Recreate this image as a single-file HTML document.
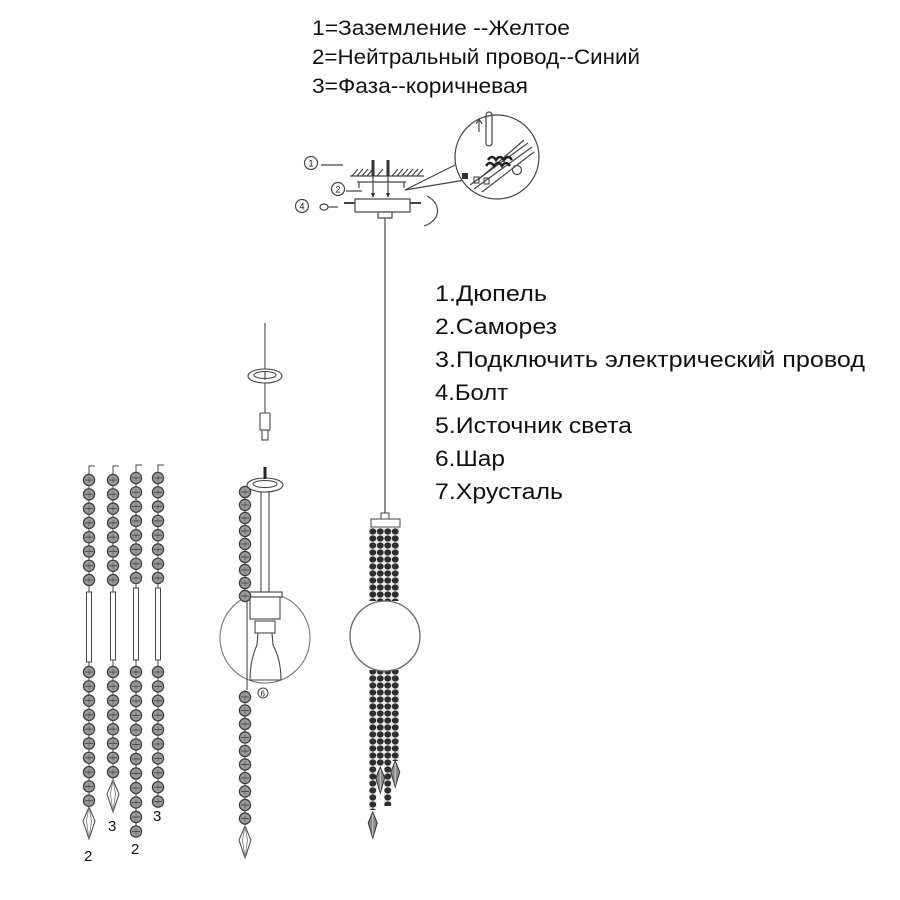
<!DOCTYPE html>
<html><head><meta charset="utf-8"><style>
html,body{margin:0;padding:0;background:#fff;}
svg{display:block;}
text{font-family:"Liberation Sans",Arial,sans-serif;fill:#111;}
</style></head><body>
<svg width="900" height="900" viewBox="0 0 900 900" xmlns="http://www.w3.org/2000/svg">
<defs>
<g id="b"><circle r="5.6" fill="#9a9a9a" stroke="#3a3a3a" stroke-width="1.2"/><line x1="-4" y1="0" x2="4" y2="0" stroke="#444" stroke-width="0.9"/><line x1="0" y1="-3" x2="0" y2="3" stroke="#555" stroke-width="0.7"/></g>
<g id="drop"><path d="M0,0 L6,14 L0,32 L-6,14 Z" fill="#fff" stroke="#444" stroke-width="1"/><path d="M0,0 L2.5,14 L0,32 L-2.5,14 Z" fill="none" stroke="#777" stroke-width="0.8"/></g>
<g id="sdrop"><path d="M0,0 L4.5,11 L0,26 L-4.5,11 Z" fill="#888" stroke="#333" stroke-width="1"/><line x1="0" y1="2" x2="0" y2="24" stroke="#ddd" stroke-width="0.8"/></g>
<pattern id="rb" x="369" y="528" width="7.5" height="7" patternUnits="userSpaceOnUse"><rect width="7.5" height="7" fill="#e8e8e8"/><ellipse cx="3.75" cy="3.5" rx="3.4" ry="3.1" fill="#2e2e2e"/></pattern>
</defs>
<rect width="900" height="900" fill="#fff"/>

<!-- top texts -->
<text x="312" y="35" font-size="21" textLength="258" lengthAdjust="spacingAndGlyphs">1=Заземление --Желтое</text>
<text x="312" y="64" font-size="21" textLength="328" lengthAdjust="spacingAndGlyphs">2=Нейтральный провод--Синий</text>
<text x="312" y="93" font-size="21" textLength="216" lengthAdjust="spacingAndGlyphs">3=Фаза--коричневая</text>

<!-- list -->
<text x="435" y="301" font-size="22" textLength="112" lengthAdjust="spacingAndGlyphs">1.Дюпель</text>
<text x="435" y="334" font-size="22" textLength="122" lengthAdjust="spacingAndGlyphs">2.Саморез</text>
<text x="435" y="367" font-size="22" textLength="430" lengthAdjust="spacingAndGlyphs">3.Подключить электрический провод</text>
<line x1="761" y1="350" x2="761" y2="370" stroke="#999" stroke-width="1"/>
<text x="435" y="400" font-size="22" textLength="73" lengthAdjust="spacingAndGlyphs">4.Болт</text>
<text x="435" y="433" font-size="22" textLength="197" lengthAdjust="spacingAndGlyphs">5.Источник света</text>
<text x="435" y="466" font-size="22" textLength="70" lengthAdjust="spacingAndGlyphs">6.Шар</text>
<text x="435" y="499" font-size="22" textLength="128" lengthAdjust="spacingAndGlyphs">7.Хрусталь</text>

<!-- ceiling / canopy -->
<g stroke="#444" stroke-width="1.2" fill="none">
<line x1="350" y1="176" x2="424" y2="176"/>
<path d="M352,176 l6,-7 M357,176 l6,-7 M362,176 l6,-7 M367,176 l6,-7 M377,176 l6,-7 M392,176 l6,-7 M397,176 l6,-7 M402,176 l6,-7 M407,176 l6,-7 M412,176 l6,-7 M417,176 l6,-7"/>
<circle cx="311" cy="163" r="6.5"/>
<line x1="321" y1="165" x2="343" y2="165"/>
<line x1="357" y1="182" x2="406" y2="182"/>
<line x1="359" y1="182" x2="359" y2="188"/>
<line x1="404" y1="182" x2="404" y2="188"/>
<line x1="373" y1="176" x2="373" y2="196"/>
<line x1="388" y1="176" x2="388" y2="196"/>
<circle cx="338" cy="189" r="6.5"/>
<line x1="346" y1="191" x2="362" y2="191"/>
<circle cx="302" cy="206" r="6.5"/>
<ellipse cx="324" cy="207" rx="4" ry="3"/>
<line x1="328" y1="207" x2="338" y2="207"/>
<rect x="355" y="199" width="55" height="13" fill="#fff"/>
<line x1="344" y1="203" x2="355" y2="203" stroke-width="2"/>
<line x1="410" y1="203" x2="421" y2="203" stroke-width="2"/>
<rect x="378" y="212" width="14" height="6" fill="#fff"/>
<path d="M427,196 C441,203 442,220 424,226"/>
<!-- magnifier -->
<line x1="405" y1="190" x2="455" y2="165"/>
<line x1="405" y1="190" x2="465" y2="180"/>
<circle cx="497" cy="157" r="42" fill="#fff"/>
<rect x="486" y="112" width="6" height="34" rx="3"/>
<path d="M479,132 L479,120 M476,124 L479,119 L482,124"/>
<line x1="470" y1="185" x2="528" y2="143"/>
<line x1="474" y1="189" x2="532" y2="147"/>
<line x1="478" y1="180" x2="524" y2="140"/>
<line x1="482" y1="192" x2="534" y2="152"/>
<circle cx="517" cy="170" r="4.5"/>
</g>
<path d="M488,160 q4,-6 8,0 q4,-6 8,0 q4,-6 8,0 M486,166 q4,-6 8,0 q4,-6 8,0 q4,-6 8,0" stroke="#222" stroke-width="2.5" fill="none"/>
<rect x="462" y="173" width="6" height="6" fill="#333"/>
<rect x="474" y="177" width="5" height="6" fill="none" stroke="#333"/>
<rect x="484" y="178" width="5" height="6" fill="none" stroke="#333"/>
<rect x="371.5" y="160" width="3" height="16" fill="#333"/>
<rect x="386.5" y="160" width="3" height="16" fill="#333"/>
<path d="M371,193 L373,198 L375,193 Z M386,193 L388,198 L390,193 Z" fill="#333"/>
<text x="308.5" y="166.5" font-size="9">1</text>
<text x="335.5" y="192.5" font-size="9">2</text>
<text x="299.5" y="209.5" font-size="9">4</text>

<!-- right assembly -->
<line x1="385" y1="218" x2="385" y2="514" stroke="#555" stroke-width="1.3"/>
<rect x="381" y="513" width="8" height="7" fill="#fff" stroke="#444"/>
<rect x="371" y="519" width="29" height="8" fill="#fff" stroke="#444"/>
<rect x="369" y="528" width="30" height="73" fill="url(#rb)"/>
<rect x="369" y="670" width="7.5" height="140" fill="url(#rb)"/>
<rect x="376.5" y="670" width="7.5" height="96" fill="url(#rb)"/>
<rect x="384" y="670" width="7.5" height="136" fill="url(#rb)"/>
<rect x="391.5" y="670" width="7.5" height="91" fill="url(#rb)"/>
<use href="#sdrop" x="372.75" y="812"/>
<use href="#sdrop" x="380.25" y="767"/>
<use href="#sdrop" x="395.25" y="761"/>
<circle cx="385" cy="636" r="35" fill="#fff" stroke="#666" stroke-width="1.3"/>

<!-- middle assembly upper -->
<g stroke="#444" stroke-width="1.1" fill="#fff">
<line x1="265" y1="323" x2="265" y2="414"/>
<ellipse cx="265" cy="376" rx="17" ry="7"/>
<ellipse cx="265" cy="375" rx="11" ry="3.5"/>
<line x1="265" y1="371" x2="265" y2="380"/>
<rect x="260" y="413" width="10" height="17" rx="1"/>
<rect x="262" y="430" width="6" height="10"/>
<!-- lower -->
<circle cx="265" cy="638" r="45" stroke="#777" fill="none"/>
<line x1="261" y1="485" x2="261" y2="594"/>
<line x1="269" y1="485" x2="269" y2="594"/>
<ellipse cx="265" cy="485" rx="18" ry="7"/>
<ellipse cx="265" cy="484" rx="12" ry="3.5"/>
<rect x="248" y="592" width="34" height="5"/>
<rect x="250" y="597" width="30" height="22"/>
<rect x="255" y="621" width="20" height="12"/>
<path d="M258,633 L272,633 L273,645 Q281,660 281,680 L250,680 Q250,660 257,645 Z"/>
<line x1="247" y1="598" x2="247" y2="690"/>
</g>
<path d="M265,467 L265,479" stroke="#222" stroke-width="3"/>
<line x1="245" y1="488" x2="245" y2="600" stroke="#444"/>
<line x1="245" y1="690" x2="245" y2="825" stroke="#444"/>
<use href="#b" x="245" y="492"/><use href="#b" x="245" y="505"/><use href="#b" x="245" y="518"/><use href="#b" x="245" y="531"/><use href="#b" x="245" y="544"/><use href="#b" x="245" y="557"/><use href="#b" x="245" y="570"/><use href="#b" x="245" y="583"/><use href="#b" x="245" y="596"/>
<use href="#b" x="245" y="697"/><use href="#b" x="245" y="710.5"/><use href="#b" x="245" y="724"/><use href="#b" x="245" y="737.5"/><use href="#b" x="245" y="751"/><use href="#b" x="245" y="764.5"/><use href="#b" x="245" y="778"/><use href="#b" x="245" y="791.5"/><use href="#b" x="245" y="805"/><use href="#b" x="245" y="818.5"/>
<use href="#drop" x="245" y="826"/>
<circle cx="263" cy="693" r="5" fill="#fff" stroke="#444"/>
<text x="260.5" y="696.5" font-size="8">6</text>

<!-- left strands -->
<g stroke="#444" stroke-width="1" fill="none">
<path d="M89,476 L89,466 L95,466"/><line x1="89" y1="470" x2="89" y2="808"/>
<path d="M113,476 L113,466 L119,466"/><line x1="113" y1="470" x2="113" y2="782"/>
<path d="M136,474 L136,465 L142,465"/><line x1="136" y1="470" x2="136" y2="832"/>
<path d="M158,474 L158,465 L164,465"/><line x1="158" y1="470" x2="158" y2="802"/>
</g>
<g fill="#fff" stroke="#444" stroke-width="1">
<rect x="86.5" y="592" width="5" height="70"/>
<rect x="110.5" y="592" width="5" height="68"/>
<rect x="133.5" y="588" width="5" height="72"/>
<rect x="155.5" y="588" width="5" height="72"/>
</g>
<!-- strand 1 -->
<use href="#b" x="89" y="480"/><use href="#b" x="89" y="494.3"/><use href="#b" x="89" y="508.6"/><use href="#b" x="89" y="522.9"/><use href="#b" x="89" y="537.2"/><use href="#b" x="89" y="551.5"/><use href="#b" x="89" y="565.8"/><use href="#b" x="89" y="580"/>
<use href="#b" x="89" y="672"/><use href="#b" x="89" y="686.3"/><use href="#b" x="89" y="700.6"/><use href="#b" x="89" y="714.9"/><use href="#b" x="89" y="729.2"/><use href="#b" x="89" y="743.5"/><use href="#b" x="89" y="757.8"/><use href="#b" x="89" y="772.1"/><use href="#b" x="89" y="786.4"/><use href="#b" x="89" y="800.7"/>
<use href="#drop" x="89" y="807"/>
<!-- strand 2 -->
<use href="#b" x="113" y="480"/><use href="#b" x="113" y="494.3"/><use href="#b" x="113" y="508.6"/><use href="#b" x="113" y="522.9"/><use href="#b" x="113" y="537.2"/><use href="#b" x="113" y="551.5"/><use href="#b" x="113" y="565.8"/><use href="#b" x="113" y="580"/>
<use href="#b" x="113" y="672"/><use href="#b" x="113" y="686.3"/><use href="#b" x="113" y="700.6"/><use href="#b" x="113" y="714.9"/><use href="#b" x="113" y="729.2"/><use href="#b" x="113" y="743.5"/><use href="#b" x="113" y="757.8"/><use href="#b" x="113" y="772.1"/>
<use href="#drop" x="113" y="780"/>
<!-- strand 3 -->
<use href="#b" x="136" y="478"/><use href="#b" x="136" y="492.3"/><use href="#b" x="136" y="506.6"/><use href="#b" x="136" y="520.9"/><use href="#b" x="136" y="535.2"/><use href="#b" x="136" y="549.5"/><use href="#b" x="136" y="563.8"/><use href="#b" x="136" y="578"/>
<use href="#b" x="136" y="672"/><use href="#b" x="136" y="686.5"/><use href="#b" x="136" y="701"/><use href="#b" x="136" y="715.5"/><use href="#b" x="136" y="730"/><use href="#b" x="136" y="744.5"/><use href="#b" x="136" y="759"/><use href="#b" x="136" y="773.5"/><use href="#b" x="136" y="788"/><use href="#b" x="136" y="802.5"/><use href="#b" x="136" y="817"/><use href="#b" x="136" y="831.5"/>
<!-- strand 4 -->
<use href="#b" x="158" y="478"/><use href="#b" x="158" y="492.3"/><use href="#b" x="158" y="506.6"/><use href="#b" x="158" y="520.9"/><use href="#b" x="158" y="535.2"/><use href="#b" x="158" y="549.5"/><use href="#b" x="158" y="563.8"/><use href="#b" x="158" y="578"/>
<use href="#b" x="158" y="672"/><use href="#b" x="158" y="686.4"/><use href="#b" x="158" y="700.8"/><use href="#b" x="158" y="715.2"/><use href="#b" x="158" y="729.6"/><use href="#b" x="158" y="744"/><use href="#b" x="158" y="758.4"/><use href="#b" x="158" y="772.8"/><use href="#b" x="158" y="787.2"/><use href="#b" x="158" y="801.6"/>
<g font-size="15" fill="#444">
<text x="84" y="861" fill="#444">2</text>
<text x="108" y="831" fill="#444">3</text>
<text x="131" y="854" fill="#444">2</text>
<text x="153" y="821" fill="#444">3</text>
</g>
</svg>
</body></html>
